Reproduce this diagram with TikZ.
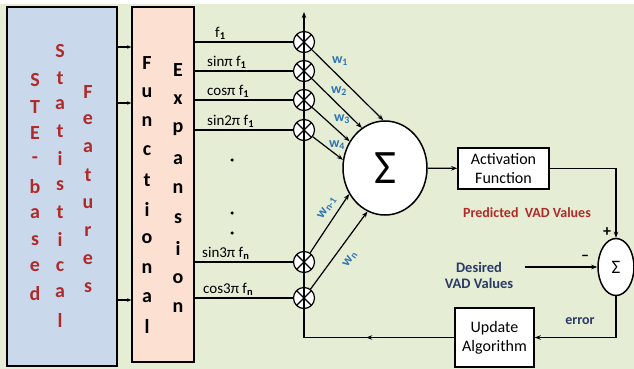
\documentclass[tikz,border=0pt]{standalone}
\usepackage{fontspec}
\setmainfont{Carlito}
\usetikzlibrary{arrows.meta, positioning, shapes.geometric, decorations.markings}

\definecolor{cbg}{HTML}{E5EDD4}     % page background
\definecolor{cfeat}{HTML}{C9D9EB}   % feature box
\definecolor{cexp}{HTML}{FCE1D2}    % expansion box
\definecolor{cred}{HTML}{B02A2A}    % red captions
\definecolor{cw}{HTML}{2E74B5}      % weights
\definecolor{cnavy}{HTML}{2B3A67}   % navy captions

\begin{document}
\begin{tikzpicture}[x=1pt, y=-1pt,
    >={Stealth[length=6pt, width=4.5pt]},
    bigbox/.style={draw, line width=1.6pt, inner sep=0pt},
    letter/.style={font=\fontsize{20}{20}\selectfont\bfseries, inner sep=0pt},
    mult/.style={circle, draw, fill=white, line width=1.2pt, minimum size=21pt,
                 inner sep=0pt,
                 path picture={\draw[line width=1.2pt]
                   (path picture bounding box.south west) -- (path picture bounding box.north east)
                   (path picture bounding box.north west) -- (path picture bounding box.south east);}},
    wire/.style={line width=1.2pt},
    arr/.style={->, line width=1.2pt},
    lbl/.style={anchor=south west, inner sep=1pt, font=\fontsize{15}{15}\selectfont},
    wlbl/.style={font=\fontsize{14}{14}\selectfont\bfseries, text=cw, inner sep=0pt},
    block/.style={draw, line width=1.5pt, fill=white, align=center,
                  font=\fontsize{16}{19}\selectfont, inner sep=0pt},
    sumnode/.style={ellipse, draw, fill=white, line width=1.5pt, inner sep=0pt},
    dot/.style={circle, fill=black, inner sep=0pt, minimum size=3.5pt},
    mid/.style={postaction={decorate}, decoration={markings,
                mark=at position 0.185 with {\arrow{Stealth[length=6pt, width=4.5pt]}}}},
]
% ---- Canvas ----
\useasboundingbox (0,0) rectangle (634,369);
\fill[cbg] (0,4) rectangle (634,369);

% ---- Input blocks ----
\node[bigbox, fill=cfeat, minimum width=110pt, minimum height=359pt] (feat) at (62,186.5) {};
\node[bigbox, fill=cexp, minimum width=62pt, minimum height=355pt] (fexp) at (163,184.5) {};
\foreach \ch [count=\i] in {S,T,E,-,b,a,s,e,d}
  \node[letter, text=cred] (ste\i) at ({35},{80+26.7*(\i-1)}) {\ch};
\foreach \ch [count=\i] in {S,t,a,t,i,s,t,i,c,a,l}
  \node[letter, text=cred] (stat\i) at ({60},{51+26.9*(\i-1)}) {\ch};
\foreach \ch [count=\i] in {F,e,a,t,u,r,e,s}
  \node[letter, text=cred] (feat\i) at ({88},{92+27.9*(\i-1)}) {\ch};
\foreach \ch [count=\i] in {F,u,n,c,t,i,o,n,a,l}
  \node[letter] (fun\i) at ({147},{63+29.3*(\i-1)}) {\ch};
\foreach \ch [count=\i] in {E,x,p,a,n,s,i,o,n}
  \node[letter] (exp\i) at ({178},{70+29.75*(\i-1)}) {\ch};
\foreach \y in {47,103,300}
  \draw[->, line width=1.2pt, >={Stealth[length=4pt, width=3.5pt]}] (feat.east |- 0,\y) -- (fexp.west |- 0,\y);

% ---- Multipliers ----
\node[mult] (m1) at (304,42)  {};
\node[mult] (m2) at (304,71)  {};
\node[mult] (m3) at (304,100) {};
\node[mult] (m4) at (304,130) {};
\node[mult] (mA) at (304,262) {};
\node[mult] (mB) at (304,298) {};
\foreach \m in {m1,m2,m3,m4,mA,mB}
  \draw[wire] (fexp.east |- \m) -- (\m);
\node[lbl] (l1) at (214,41)  {f\textsubscript{\textbf{1}}};
\node[lbl] (l2) at (206,70)  {sinπ f\textsubscript{\textbf{1}}};
\node[lbl] (l3) at (206,99)  {cosπ f\textsubscript{\textbf{1}}};
\node[lbl] (l4) at (206,129) {sin2π f\textsubscript{\textbf{1}}};
\node[lbl] (lA) at (201,261) {sin3π f\textsubscript{\textbf{n}}};
\node[lbl] (lB) at (202,297) {cos3π f\textsubscript{\textbf{n}}};
\node[dot] (d1) at (232,160) {};
\node[dot] (d2) at (232,213) {};
\node[dot] (d3) at (232,233) {};

% ---- Summation and weights ----
\node[sumnode, minimum width=84pt, minimum height=94pt,
      font=\fontsize{48}{48}\selectfont] (sum) at (385,168) {Σ};
\draw[arr] (m1) -- (sum.92);
\draw[arr] (m2) -- (sum.120);
\draw[arr] (m3) -- (sum.143);
\draw[arr] (m4) -- (sum.169);
\draw[arr] (mA) -- (sum.216);
\draw[arr] (mB) -- (sum.248);
\node[wlbl] (w1) at (340,61)  {w\textsubscript{1}};
\node[wlbl] (w2) at (339,91)  {w\textsubscript{2}};
\node[wlbl] (w3) at (342,119) {w\textsubscript{3}};
\node[wlbl] (w4) at (337,145) {w\textsubscript{4}};
\node[wlbl, rotate=57] (wA) at (327,208) {w\textsubscript{n-1}};
\node[wlbl, rotate=57] (wB) at (350,259) {w\textsubscript{n}};

% ---- Output, error and update ----
\node[block, minimum width=91pt, minimum height=41pt] (act) at (503.5,168.5) {Activation\\Function};
\node[sumnode, minimum width=36pt, minimum height=57pt,
      font=\fontsize{19}{19}\selectfont] (esum) at (616,267) {Σ};
\node[block, minimum width=79pt, minimum height=59pt] (upd) at (494.5,337.5) {Update\\Algorithm};
\node[font=\fontsize{14}{14}\selectfont\bfseries, text=cred] (pred) at (527,213) {Predicted\ \ VAD Values};
\node[font=\fontsize{14.5}{16}\selectfont\bfseries, text=cnavy, align=center] (des) at (479,275) {Desired\\VAD Values};
\node[font=\fontsize{14}{14}\selectfont\bfseries, text=cnavy] (err) at (580,321) {error};
\node[font=\fontsize{16}{16}\selectfont\bfseries] (plus) at (607,232) {+};
\node[font=\fontsize{16}{16}\selectfont\bfseries] (minus) at (585,258) {–};
\coordinate (top) at (304,12);

\draw[arr] (sum) -- (act);
\draw[arr] (act.east) -| (esum.north);
\draw[arr] ([xshift=8pt]des.east |- esum.west) -- (esum.west);
\draw[arr] (esum.south) |- (upd.east);
\draw[arr, mid] (upd.west) -| (top);
\end{tikzpicture}
\end{document}
